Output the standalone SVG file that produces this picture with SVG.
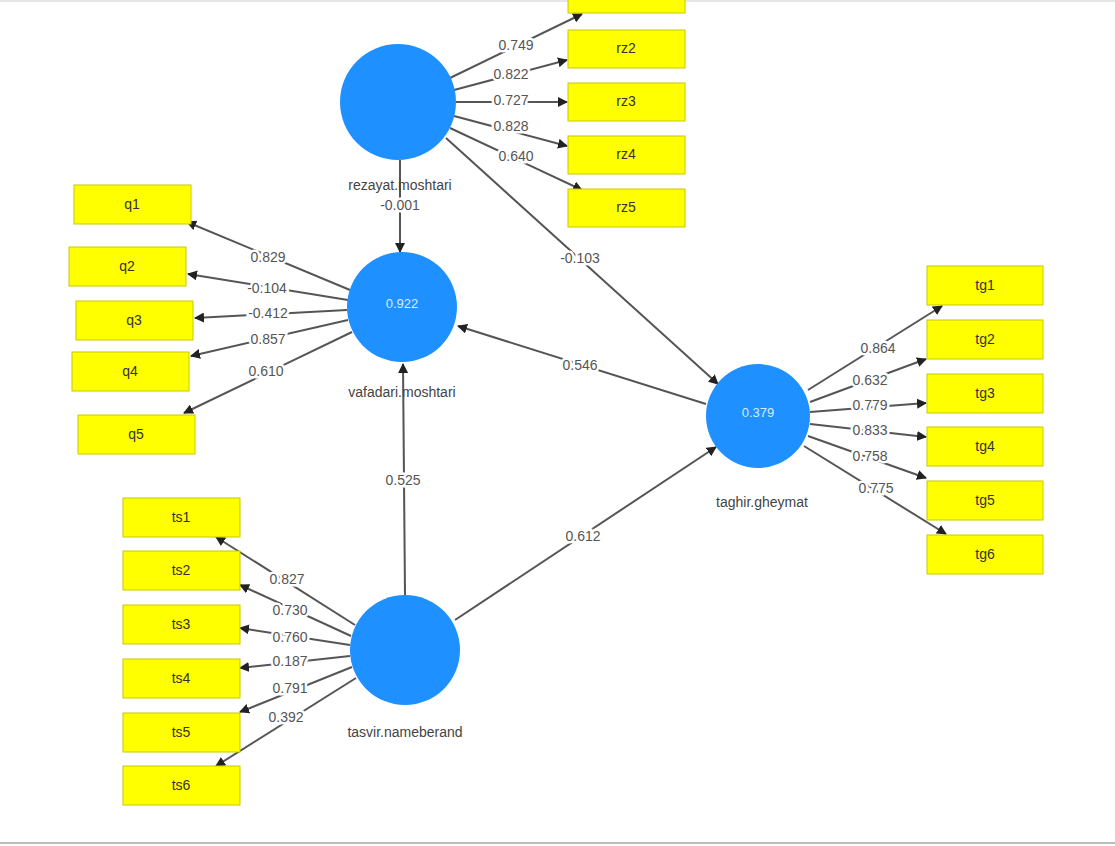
<svg xmlns="http://www.w3.org/2000/svg" width="1115" height="846" viewBox="0 0 1115 846">
<style>
.box{fill:#ffff00;stroke:#c8c800;stroke-width:1}
.bt{font-family:"Liberation Sans",Arial,sans-serif;font-size:14px;fill:#333;text-anchor:middle;dominant-baseline:middle}
.lv{fill:#1e90ff}
.ct{font-family:"Liberation Sans",Arial,sans-serif;font-size:13px;fill:#d8ecff;text-anchor:middle;dominant-baseline:middle}
.nl{font-family:"Liberation Sans",Arial,sans-serif;font-size:14px;fill:#444;text-anchor:middle;dominant-baseline:middle}
.el{font-family:"Liberation Sans",Arial,sans-serif;font-size:14px;fill:#555;text-anchor:middle;dominant-baseline:middle;paint-order:stroke;stroke:#fff;stroke-width:5px}
.ln{stroke:#555;stroke-width:2;fill:none;marker-end:url(#a)}
</style>
<defs><marker id="a" viewBox="0 0 10 10" refX="9" refY="5" markerWidth="5" markerHeight="5" orient="auto"><path d="M0,0L10,5L0,10z" fill="#222"/></marker></defs>
<rect width="1115" height="846" fill="#fff"/>
<line x1="0" y1="1" x2="1115" y2="1" stroke="#ccc"/>
<line x1="0" y1="843" x2="1115" y2="843" stroke="#bbb" stroke-width="2"/>
<g id="connectors">
<line class="ln" x1="450" y1="78" x2="582" y2="14"/>
<line class="ln" x1="454" y1="90" x2="567" y2="60"/>
<line class="ln" x1="456" y1="102" x2="567" y2="102"/>
<line class="ln" x1="454" y1="116" x2="567" y2="146"/>
<line class="ln" x1="450" y1="128" x2="582" y2="190"/>
<line class="ln" x1="400" y1="160" x2="400" y2="252"/>
<line class="ln" x1="446" y1="138" x2="718" y2="384"/>
<line class="ln" x1="350" y1="290" x2="187" y2="222"/>
<line class="ln" x1="348" y1="300" x2="188" y2="274"/>
<line class="ln" x1="347" y1="310" x2="195" y2="318"/>
<line class="ln" x1="348" y1="320" x2="191" y2="356"/>
<line class="ln" x1="352" y1="332" x2="184" y2="413"/>
<line class="ln" x1="706" y1="404" x2="458" y2="326"/>
<line class="ln" x1="405" y1="595" x2="403" y2="364"/>
<line class="ln" x1="455" y1="620" x2="716" y2="447"/>
<line class="ln" x1="808" y1="390" x2="942" y2="306"/>
<line class="ln" x1="810" y1="402" x2="926" y2="359"/>
<line class="ln" x1="810" y1="412" x2="926" y2="403"/>
<line class="ln" x1="810" y1="424" x2="926" y2="437"/>
<line class="ln" x1="808" y1="436" x2="926" y2="478"/>
<line class="ln" x1="804" y1="446" x2="946" y2="534"/>
<line class="ln" x1="355" y1="625" x2="216" y2="537"/>
<line class="ln" x1="351" y1="636" x2="240" y2="585"/>
<line class="ln" x1="350" y1="645" x2="240" y2="628"/>
<line class="ln" x1="350" y1="656" x2="240" y2="668"/>
<line class="ln" x1="352" y1="667" x2="240" y2="712"/>
<line class="ln" x1="356" y1="678" x2="216" y2="766"/>
<text class="el" x="516" y="46">0.749</text>
<text class="el" x="511" y="75">0.822</text>
<text class="el" x="511" y="101">0.727</text>
<text class="el" x="511" y="127">0.828</text>
<text class="el" x="516" y="157">0.640</text>
<text class="el" x="580" y="259">-0.103</text>
<text class="el" x="268" y="258">0.829</text>
<text class="el" x="267" y="289">-0.104</text>
<text class="el" x="268" y="314">-0.412</text>
<text class="el" x="268" y="340">0.857</text>
<text class="el" x="266" y="372">0.610</text>
<text class="el" x="580" y="366">0.546</text>
<text class="el" x="403" y="481">0.525</text>
<text class="el" x="583" y="537">0.612</text>
<text class="el" x="878" y="349">0.864</text>
<text class="el" x="870" y="381">0.632</text>
<text class="el" x="870" y="406">0.779</text>
<text class="el" x="870" y="431">0.833</text>
<text class="el" x="870" y="457">0.758</text>
<text class="el" x="876" y="489">0.775</text>
<text class="el" x="287" y="580">0.827</text>
<text class="el" x="290" y="611">0.730</text>
<text class="el" x="290" y="638">0.760</text>
<text class="el" x="290" y="662">0.187</text>
<text class="el" x="290" y="689">0.791</text>
<text class="el" x="286" y="718">0.392</text>
</g>
<g id="rezayat.moshtari"><circle class="lv" cx="398" cy="102" r="58"/><text class="nl" x="400" y="186">rezayat.moshtari</text><text class="el" x="400" y="206">-0.001</text></g>
<g id="vafadari.moshtari"><circle class="lv" cx="402" cy="307" r="55"/><text class="ct" x="402" y="305">0.922</text><text class="nl" x="402" y="393">vafadari.moshtari</text></g>
<g id="taghir.gheymat"><circle class="lv" cx="758" cy="416" r="52"/><text class="ct" x="758" y="414">0.379</text><text class="nl" x="762" y="503">taghir.gheymat</text></g>
<g id="tasvir.nameberand"><circle class="lv" cx="405" cy="650" r="55"/><text class="nl" x="405" y="733">tasvir.nameberand</text></g>
<g id="rz1"><rect class="box" x="568" y="-25" width="117" height="38"/><text class="bt" x="626" y="-6">rz1</text></g>
<g id="rz2"><rect class="box" x="568" y="30" width="117" height="38"/><text class="bt" x="626" y="49">rz2</text></g>
<g id="rz3"><rect class="box" x="568" y="83" width="117" height="38"/><text class="bt" x="626" y="102">rz3</text></g>
<g id="rz4"><rect class="box" x="568" y="136" width="117" height="38"/><text class="bt" x="626" y="155">rz4</text></g>
<g id="rz5"><rect class="box" x="568" y="189" width="117" height="38"/><text class="bt" x="626" y="208">rz5</text></g>
<g id="q1"><rect class="box" x="74" y="185" width="117" height="39"/><text class="bt" x="132" y="205">q1</text></g>
<g id="q2"><rect class="box" x="69" y="247" width="117" height="39"/><text class="bt" x="127" y="267">q2</text></g>
<g id="q3"><rect class="box" x="76" y="301" width="117" height="39"/><text class="bt" x="134" y="321">q3</text></g>
<g id="q4"><rect class="box" x="72" y="352" width="117" height="39"/><text class="bt" x="130" y="372">q4</text></g>
<g id="q5"><rect class="box" x="78" y="415" width="117" height="39"/><text class="bt" x="136" y="435">q5</text></g>
<g id="tg1"><rect class="box" x="927" y="266" width="116" height="39"/><text class="bt" x="985" y="286">tg1</text></g>
<g id="tg2"><rect class="box" x="927" y="320" width="116" height="39"/><text class="bt" x="985" y="340">tg2</text></g>
<g id="tg3"><rect class="box" x="927" y="374" width="116" height="39"/><text class="bt" x="985" y="394">tg3</text></g>
<g id="tg4"><rect class="box" x="927" y="427" width="116" height="39"/><text class="bt" x="985" y="447">tg4</text></g>
<g id="tg5"><rect class="box" x="927" y="481" width="116" height="39"/><text class="bt" x="985" y="501">tg5</text></g>
<g id="tg6"><rect class="box" x="927" y="535" width="116" height="39"/><text class="bt" x="985" y="555">tg6</text></g>
<g id="ts1"><rect class="box" x="123" y="498" width="117" height="39"/><text class="bt" x="181" y="518">ts1</text></g>
<g id="ts2"><rect class="box" x="123" y="551" width="117" height="39"/><text class="bt" x="181" y="571">ts2</text></g>
<g id="ts3"><rect class="box" x="123" y="605" width="117" height="39"/><text class="bt" x="181" y="625">ts3</text></g>
<g id="ts4"><rect class="box" x="123" y="659" width="117" height="39"/><text class="bt" x="181" y="679">ts4</text></g>
<g id="ts5"><rect class="box" x="123" y="713" width="117" height="39"/><text class="bt" x="181" y="733">ts5</text></g>
<g id="ts6"><rect class="box" x="123" y="766" width="117" height="39"/><text class="bt" x="181" y="786">ts6</text></g>
</svg>
